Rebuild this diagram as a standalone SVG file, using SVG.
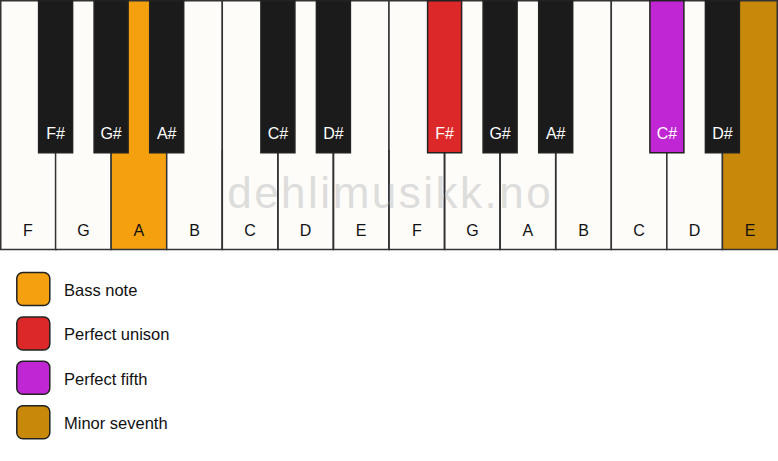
<svg xmlns="http://www.w3.org/2000/svg" width="778" height="461" viewBox="0 0 778 461">
<style>
.w{fill:#fdfcf9;stroke:#333;stroke-width:1.5}
.b{fill:#1b1b1b;stroke:#222;stroke-width:1.5}
.dv{stroke:#333;stroke-width:1.5}
.wl{font-family:"Liberation Sans",Arial,sans-serif;font-size:16px;fill:#111;text-anchor:middle}
.bl{font-family:"Liberation Sans",Arial,sans-serif;font-size:16px;fill:#fff;text-anchor:middle}
.lg{stroke:#222;stroke-width:1.5}
.lt{font-family:"Liberation Sans",Arial,sans-serif;font-size:16.5px;fill:#111}
.wm{font-family:"Liberation Sans",Arial,sans-serif;font-size:44px;fill:#dddddc;letter-spacing:2.5px;text-anchor:middle}
</style>
<rect width="778" height="461" fill="#ffffff"/>
<g id="white-keys">
<g id="wk-F1"><rect class="w" x="0.75" y="0.75" width="55.57" height="248.75"/><text class="wl" x="27.8" y="236">F</text></g>
<g id="wk-G1"><rect class="w" x="55.57" y="0.75" width="55.57" height="248.75"/><text class="wl" x="83.4" y="236">G</text></g>
<g id="wk-A1"><rect class="w" x="111.14" y="0.75" width="55.57" height="248.75" style="fill:#f4a00f"/><text class="wl" x="138.9" y="236">A</text></g>
<g id="wk-B1"><rect class="w" x="166.71" y="0.75" width="55.57" height="248.75"/><text class="wl" x="194.5" y="236">B</text></g>
<g id="wk-C1"><rect class="w" x="222.29" y="0.75" width="55.57" height="248.75"/><text class="wl" x="250.1" y="236">C</text></g>
<g id="wk-D1"><rect class="w" x="277.86" y="0.75" width="55.57" height="248.75"/><text class="wl" x="305.6" y="236">D</text></g>
<g id="wk-E1"><rect class="w" x="333.43" y="0.75" width="55.57" height="248.75"/><text class="wl" x="361.2" y="236">E</text></g>
<g id="wk-F2"><rect class="w" x="389" y="0.75" width="55.57" height="248.75"/><text class="wl" x="416.8" y="236">F</text></g>
<g id="wk-G2"><rect class="w" x="444.57" y="0.75" width="55.57" height="248.75"/><text class="wl" x="472.4" y="236">G</text></g>
<g id="wk-A2"><rect class="w" x="500.14" y="0.75" width="55.57" height="248.75"/><text class="wl" x="527.9" y="236">A</text></g>
<g id="wk-B2"><rect class="w" x="555.71" y="0.75" width="55.57" height="248.75"/><text class="wl" x="583.5" y="236">B</text></g>
<g id="wk-C2"><rect class="w" x="611.29" y="0.75" width="55.57" height="248.75"/><text class="wl" x="639.1" y="236">C</text></g>
<g id="wk-D2"><rect class="w" x="666.86" y="0.75" width="55.57" height="248.75"/><text class="wl" x="694.6" y="236">D</text></g>
<g id="wk-E2"><rect class="w" x="722.43" y="0.75" width="54.82" height="248.75" style="fill:#c8880a"/><text class="wl" x="750.2" y="236">E</text></g>
</g>
<text class="wm" x="390.2" y="208">dehlimusikk.no</text>
<g id="key-dividers">
<line class="dv" x1="222.29" y1="150" x2="222.29" y2="249.5"/>
<line class="dv" x1="277.86" y1="150" x2="277.86" y2="249.5"/>
<line class="dv" x1="333.43" y1="150" x2="333.43" y2="249.5"/>
<line class="dv" x1="389" y1="150" x2="389" y2="249.5"/>
<line class="dv" x1="444.57" y1="150" x2="444.57" y2="249.5"/>
<line class="dv" x1="500.14" y1="150" x2="500.14" y2="249.5"/>
<line class="dv" x1="555.71" y1="150" x2="555.71" y2="249.5"/>
</g>
<g id="black-keys">
<g id="bk-Fs1"><rect class="b" x="38.6" y="0.75" width="34" height="152"/><text class="bl" x="55.6" y="139">F#</text></g>
<g id="bk-Gs1"><rect class="b" x="94.1" y="0.75" width="34" height="152"/><text class="bl" x="111.1" y="139">G#</text></g>
<g id="bk-As1"><rect class="b" x="149.7" y="0.75" width="34" height="152"/><text class="bl" x="166.7" y="139">A#</text></g>
<g id="bk-Cs1"><rect class="b" x="260.9" y="0.75" width="34" height="152"/><text class="bl" x="277.9" y="139">C#</text></g>
<g id="bk-Ds1"><rect class="b" x="316.4" y="0.75" width="34" height="152"/><text class="bl" x="333.4" y="139">D#</text></g>
<g id="bk-Fs2"><rect class="b" x="427.6" y="0.75" width="34" height="152" style="fill:#dc2828"/><text class="bl" x="444.6" y="139">F#</text></g>
<g id="bk-Gs2"><rect class="b" x="483.1" y="0.75" width="34" height="152"/><text class="bl" x="500.1" y="139">G#</text></g>
<g id="bk-As2"><rect class="b" x="538.7" y="0.75" width="34" height="152"/><text class="bl" x="555.7" y="139">A#</text></g>
<g id="bk-Cs2"><rect class="b" x="649.9" y="0.75" width="34" height="152" style="fill:#c026d3"/><text class="bl" x="666.9" y="139">C#</text></g>
<g id="bk-Ds2"><rect class="b" x="705.4" y="0.75" width="34" height="152"/><text class="bl" x="722.4" y="139">D#</text></g>
</g>
<g id="legend">
<g id="lg-bass"><rect class="lg" x="16.8" y="272.5" width="33" height="33" rx="6" fill="#f4a00f"/><text class="lt" x="64" y="295.5">Bass note</text></g>
<g id="lg-unison"><rect class="lg" x="16.8" y="317" width="33" height="33" rx="6" fill="#dc2828"/><text class="lt" x="64" y="340">Perfect unison</text></g>
<g id="lg-fifth"><rect class="lg" x="16.8" y="361.3" width="33" height="33" rx="6" fill="#c026d3"/><text class="lt" x="64" y="384.5">Perfect fifth</text></g>
<g id="lg-seventh"><rect class="lg" x="16.8" y="405.8" width="33" height="33" rx="6" fill="#c8880a"/><text class="lt" x="64" y="429">Minor seventh</text></g>
</g>
</svg>
